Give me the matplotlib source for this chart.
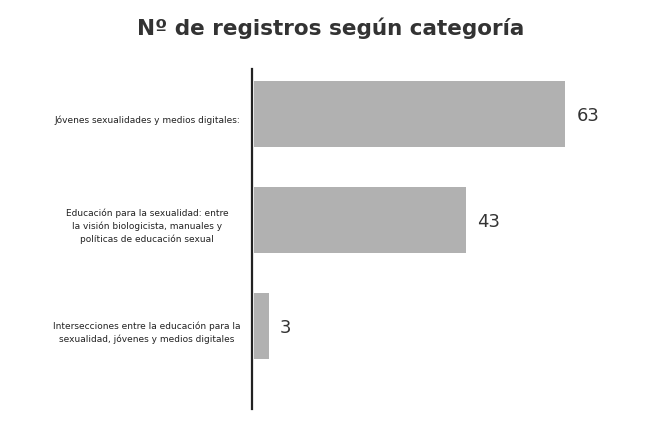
import matplotlib
matplotlib.use("Agg")
import matplotlib.pyplot as plt
import matplotlib.transforms as mtransforms

categories = [
    "Jóvenes sexualidades y medios digitales:",
    "Educación para la sexualidad: entre\nla visión biologicista, manuales y\npolíticas de educación sexual",
    "Intersecciones entre la educación para la\nsexualidad, jóvenes y medios digitales",
]
values = [63, 43, 3]

fig = plt.figure(figsize=(6.5, 4.27), dpi=100)
ax = fig.add_axes([0.388, 0.04, 0.571, 0.796])

pos = list(range(len(values)))
ax.barh(pos, values, height=0.62, color="#b1b1b1", left=0.3)
ax.set_xlim(0, 75)
ax.set_ylim(2.78, -0.42)

for p, v in zip(pos, values):
    ax.text(v + 2.5, p + 0.01, str(v), va="center", ha="left", fontsize=13, color="#333333")

tr = mtransforms.blended_transform_factory(ax.transAxes, ax.transData)
for p, c in zip(pos, categories):
    ax.text(-0.283, p + 0.05, c, transform=tr, ha="center", va="center", fontsize=6.5,
            family=["Liberation Sans Narrow", "DejaVu Sans"], color="#222222", linespacing=1.5)

ax.set_xticks([]); ax.set_yticks([])
for s in ["top", "right", "bottom"]:
    ax.spines[s].set_visible(False)
ax.spines["left"].set_linewidth(1.6)
ax.spines["left"].set_color("#222222")

fig.text(0.508, 0.935, "Nº de registros según categoría", ha="center", va="center",
         fontsize=15.5, fontweight="bold", color="#333333")

fig.savefig("out.png", dpi=100)
